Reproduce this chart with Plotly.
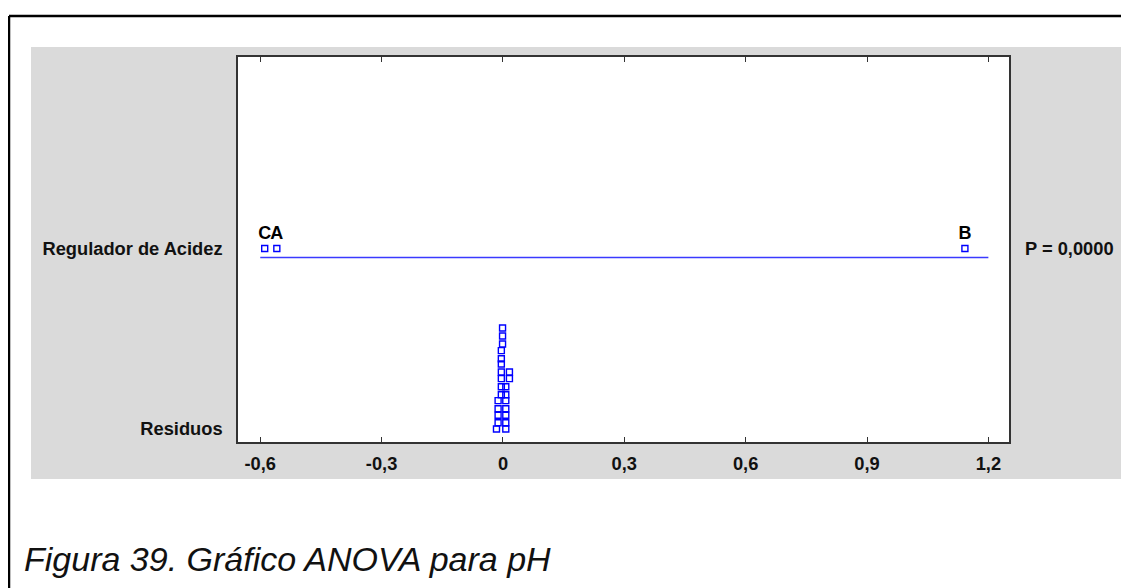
import plotly.graph_objects as go

# ---------------- data ----------------
factor_name = "Regulador de Acidez"
residual_name = "Residuos"
group_labels = ["C", "A", "B"]
group_effects = [-0.589, -0.559, 1.142]
p_value_text = "P = 0,0000"

residual_values = [-0.001, -0.001, -0.001, -0.004, -0.004, -0.004,
                   -0.004, 0.016, -0.004, 0.016, -0.004, 0.007,
                   -0.004, 0.007, -0.012, 0.007, -0.012, 0.007,
                   -0.012, 0.007, -0.012, 0.007, -0.016, 0.007]
residual_jitter = [0.560, 0.515, 0.471, 0.434, 0.389, 0.360,
                   0.316, 0.316, 0.279, 0.279, 0.234, 0.234,
                   0.190, 0.190, 0.157, 0.157, 0.112, 0.112,
                   0.076, 0.076, 0.035, 0.035, 0.0, 0.0]

tick_values = [-0.6, -0.3, 0, 0.3, 0.6, 0.9, 1.2]
tick_labels = ["-0,6", "-0,3", "0", "0,3", "0,6", "0,9", "1,2"]
line_span = [-0.6, 1.2]
caption = "Figura 39. Gráfico ANOVA para pH"

# ---------------- figure ----------------
# The page has an 8px default body margin, so the figure is offset by 8px.
OFF = 8
W, H = 1129 - OFF, 588 - OFF
BLUE = "#0000ff"
FONT = "Liberation Sans, Arial, sans-serif"


def px(x):
    return (x - OFF) / W


def py(y):
    return 1 - (y - OFF) / H


factor_level = 1.0
resid_level = 0.0
line_level = factor_level - 0.05

fig = go.Figure()

fig.add_trace(go.Scatter(
    x=line_span, y=[line_level, line_level], mode="lines",
    line=dict(color="#3a3aff", width=1.4), hoverinfo="skip", showlegend=False))

fig.add_trace(go.Scatter(
    x=group_effects, y=[factor_level] * len(group_effects),
    mode="markers+text", text=group_labels, textposition="top center",
    textfont=dict(family=FONT, size=18, color="#000000", weight="bold"),
    marker=dict(symbol="square-open", size=6, color=BLUE, line=dict(width=1.4, color=BLUE)),
    showlegend=False))

fig.add_trace(go.Scatter(
    x=residual_values, y=[resid_level + j for j in residual_jitter],
    mode="markers",
    marker=dict(symbol="square-open", size=6, color=BLUE, line=dict(width=1.4, color=BLUE)),
    showlegend=False))

fig.update_layout(
    width=W, height=H,
    margin=dict(l=0, r=0, t=0, b=0),
    paper_bgcolor="white", plot_bgcolor="white",
    showlegend=False,
    xaxis=dict(domain=[px(238), px(1009)], range=[-0.655, 1.251],
               tickvals=tick_values, ticktext=tick_labels,
               ticks="inside", ticklen=5, tickcolor="#333", tickwidth=1.3,
               showline=True, linecolor="#333", linewidth=1.5, mirror="ticks",
               showgrid=False, zeroline=False, ticklabelstandoff=4,
               tickfont=dict(family=FONT, size=18.3, color="#111", weight="bold")),
    yaxis=dict(domain=[py(442), py(57)], range=[-0.072, 2.061],
               tickvals=[resid_level, factor_level],
               ticktext=[residual_name, factor_name],
               ticks="", showline=True, linecolor="#333", linewidth=1.5, mirror=True,
               showgrid=False, zeroline=False, ticklabelstandoff=10,
               tickfont=dict(family=FONT, size=18.3, color="#111", weight="bold")),
    shapes=[
        dict(type="rect", xref="paper", yref="paper",
             x0=px(31), x1=px(1121), y0=py(479), y1=py(47),
             fillcolor="#dadada", line=dict(width=0), layer="below"),
        dict(type="rect", xref="paper", yref="paper",
             x0=px(238), x1=px(1009), y0=py(442), y1=py(57),
             fillcolor="white", line=dict(width=0), layer="below"),
        dict(type="line", xref="paper", yref="paper",
             x0=px(9), x1=1.0, y0=py(16), y1=py(16),
             line=dict(color="black", width=2.5)),
        dict(type="line", xref="paper", yref="paper",
             x0=px(9), x1=px(9), y0=py(16), y1=0,
             line=dict(color="black", width=2.5)),
    ],
    annotations=[
        dict(text=p_value_text, xref="paper", yref="y", x=px(1023), y=factor_level,
             xanchor="left", yanchor="middle", showarrow=False,
             font=dict(family=FONT, size=18.3, color="#111", weight="bold")),
        dict(text=caption, xref="paper", yref="paper", x=px(22), y=py(559),
             xanchor="left", yanchor="middle", showarrow=False,
             font=dict(family=FONT, size=34, color="#111", style="italic")),
    ],
)

fig.write_html("out.html")
